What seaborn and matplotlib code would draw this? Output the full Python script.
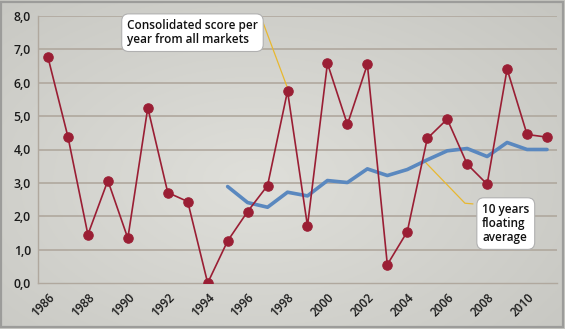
import numpy as np
import pandas as pd
import matplotlib
matplotlib.use("Agg")
import matplotlib.pyplot as plt
import matplotlib.transforms as mtrans
import seaborn as sns
from matplotlib.patches import Rectangle

years = list(range(1986, 2012))
score = [6.76, 4.38, 1.45, 3.07, 1.34, 5.25, 2.71, 2.44, 0.00, 1.26, 2.14, 2.92, 5.75,
         1.71, 6.58, 4.75, 6.55, 0.55, 1.54, 4.33, 4.91, 3.56, 2.96, 6.41, 4.45, 4.37]
avg_years = list(range(1995, 2012))
avg = [2.89, 2.41, 2.27, 2.72, 2.61, 3.07, 3.01, 3.42, 3.22, 3.40, 3.69, 3.96, 4.03,
       3.79, 4.21, 4.00, 4.00]
ytick_values = [0, 1, 2, 3, 4, 5, 6, 7, 8]
ytick_labels = ["0,0", "1,0", "2,0", "3,0", "4,0", "5,0", "6,0", "7,0", "8,0"]
xtick_years = list(range(1986, 2011, 2))
label_score = "Consolidated score per\nyear from all markets"
label_avg = "10 years\nfloating\naverage"

sns.set_style("white")
plt.rcParams['font.family'] = ['Open Sans', 'DejaVu Sans']

df_score = pd.DataFrame({"year": years, "score": score})
df_avg = pd.DataFrame({"year": avg_years, "avg": avg})

fig = plt.figure(figsize=(5.65, 3.29), dpi=100)

# background gradient
bg = fig.add_axes([0, 0, 1, 1], zorder=-10)
yy, xx = np.mgrid[0:1:200j, 0:1:340j]
r = np.sqrt(((xx - 0.45) / 0.75) ** 2 + ((yy - 0.45) / 0.8) ** 2)
r = np.clip(r, 0, 1)
c_in = np.array([0.875, 0.875, 0.855])
c_out = np.array([0.775, 0.775, 0.755])
img = c_in[None, None, :] * (1 - r[..., None]) + c_out[None, None, :] * r[..., None]
bg.imshow(img, extent=[0, 1, 0, 1], aspect='auto', origin='lower')
bg.set_axis_off()
fig.patches.append(Rectangle((0.0015, 0.006), 0.995, 0.988, transform=fig.transFigure,
                             fill=False, edgecolor='#9c9c9a', linewidth=1.6))

ax = fig.add_axes([38 / 565, 1 - 283 / 329, (557 - 38) / 565, (283 - 16) / 329])
ax.set_facecolor('none')

grid_c = '#b0a89e'
for v in ytick_values[1:]:
    ax.axhline(v, color=grid_c, lw=1.2, zorder=0)

sns.lineplot(data=df_avg, x="year", y="avg", ax=ax, color='#5a88bf', lw=2.6,
             zorder=3, legend=False)
sns.lineplot(data=df_score, x="year", y="score", ax=ax, color='#9a1e34', lw=1.2,
             marker='o', markersize=6.8, markeredgecolor='#9a1e34', zorder=4, legend=False)

ax.set_xlim(1985.5, 2011.5)
ax.set_ylim(0, 8)
ax.set_xlabel("")
ax.set_ylabel("")
ax.set_yticks(ytick_values)
ax.set_yticklabels(ytick_labels, fontsize=8.8, color='#1a1a1a', fontweight='semibold')
ax.set_xticks(xtick_years)
ax.set_xticklabels([str(y) for y in xtick_years], rotation=45, ha='right',
                   rotation_mode='anchor', fontsize=8.5, color='#1a1a1a',
                   fontweight='semibold')
shift = mtrans.ScaledTranslation(-5 / 100, 0, fig.dpi_scale_trans)
for lab in ax.get_xticklabels():
    lab.set_transform(lab.get_transform() + shift)
ax.set_xticks(np.arange(1985.5, 2012, 1), minor=True)
ax.tick_params(axis='x', which='major', length=0, pad=6)
ax.tick_params(axis='x', which='minor', length=3, color=grid_c, direction='out')
ax.tick_params(axis='y', length=3, color=grid_c, pad=2)
for s in ['top', 'right']:
    ax.spines[s].set_visible(False)
for s in ['left', 'bottom']:
    ax.spines[s].set_color(grid_c)
    ax.spines[s].set_linewidth(1.0)

# connectors
conn_c = '#e8b830'
ax.plot([1996.52, 1996.77, 1998.0], [7.81, 7.81, 5.84], color=conn_c, lw=0.9,
        zorder=2, clip_on=False)
ax.plot([2004.79, 2006.89, 2007.29], [3.69, 2.39, 2.37], color=conn_c, lw=0.9,
        zorder=2, clip_on=False)

box = dict(boxstyle='round,pad=0.45,rounding_size=0.6', facecolor='white',
           edgecolor='#b0b0b0', linewidth=0.8)
ax.text(1989.96, 7.5, label_score, fontsize=8.5, color='#111111', ha='left',
        va='center', bbox=box, zorder=6, linespacing=1.1, clip_on=False,
        fontweight='semibold')
ax.text(2007.75, 1.78, label_avg, fontsize=8.5, color='#111111', ha='left',
        va='center', bbox=box, zorder=6, linespacing=1.1, clip_on=False,
        fontweight='semibold')

fig.savefig("out.png", dpi=100)
